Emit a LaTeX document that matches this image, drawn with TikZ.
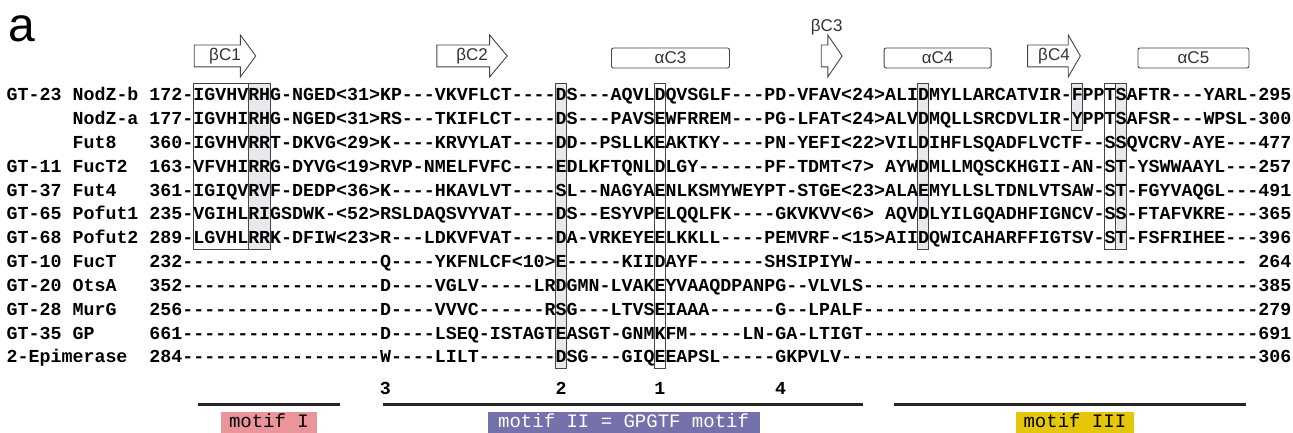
\documentclass[tikz,border=0pt]{standalone}
\usepackage{fontspec}
\setmainfont{Liberation Sans}
\setmonofont{Liberation Mono}
\usepackage{tikz}
\usetikzlibrary{positioning}

\definecolor{boxgray}{HTML}{E7E9ED}
\definecolor{edgegray}{HTML}{454545}
\definecolor{motifpink}{HTML}{E99599}
\definecolor{motifblue}{HTML}{7571AB}
\definecolor{motifyellow}{HTML}{E5C70A}

\tikzset{
  seq/.style={font=\fontsize{18.3}{22}\selectfont\ttfamily\bfseries,
    inner sep=0pt, anchor=west, text height=12pt, text depth=0pt},
  colbox/.style={draw=edgegray, line width=0.9pt, fill=white},
  colshade/.style={colbox, fill=boxgray},
  sse/.style={draw=edgegray, line width=0.9pt, fill=white},
  ssename/.style={font=\fontsize{17}{20}\selectfont, text=black!80, inner sep=0pt},
  helix/.style={sse, rounded corners=2pt, minimum height=20pt, inner sep=0pt,
    font=\fontsize{17}{20}\selectfont, text=black!80},
  motifbar/.style={line width=3pt, black!85},
  motifname/.style={font=\fontsize{19}{22}\selectfont\ttfamily, inner xsep=0pt,
    inner ysep=4pt, text height=12pt, text depth=3pt},
}

\begin{document}
\begin{tikzpicture}[x=10.98pt,y=-23.8pt]
\useasboundingbox (-6.5pt,71.2pt) rectangle (1286.5pt,-361.8pt);

\node [font=\fontsize{48}{48}\selectfont, anchor=base west, inner sep=0pt] (panel) at (0.15,-1.23) {a};

% conserved columns (under the text)
\draw[colbox] (17,0.5) rectangle (22,7.5);
\draw[colshade] (22,0.5) rectangle (24,7.5);
\draw[colshade] (50,0.5) rectangle (51,12.5);
\draw[colbox] (59,0.5) rectangle (60,12.5);
\draw[colshade] (83,0.5) rectangle (84,7.5);
\draw[colshade] (97,0.5) rectangle (98,2.5);
\draw[colbox] (100,0.5) rectangle (101,7.5);
\draw[colshade] (101,0.5) rectangle (102,7.5);

% secondary structure
\foreach \s/\a/\b/\c in {1/17.1/21.3/22.7, 2/39.2/44.0/45.6, 4/93.0/96.7/97.8} {
  \draw[sse] (\a,-1.1) -- (\b,-1.1) -- (\b,-1.52) -- (\c,-0.64) -- (\b,0.24)
    -- (\b,-0.18) -- (\a,-0.18) -- cycle;
  \node[ssename] (beta\s) at ({(\a+\c)/2},-0.64) {βC\s};
}
\draw[sse] (74.2,-1.1) -- (74.8,-1.1) -- (74.8,-1.52) -- (76.1,-0.64) -- (74.8,0.24)
  -- (74.8,-0.18) -- (74.2,-0.18) -- cycle;
\node[ssename] (beta3) at (74.7,-1.86) {βC3};
\node[helix, minimum width=118pt] (alpha3) at (60.47,-0.555) {αC3};
\node[helix, minimum width=107pt] (alpha4) at (84.8,-0.555) {αC4};
\node[helix, minimum width=111pt] (alpha5) at (108.1,-0.555) {αC5};

% alignment
\node[seq] (gt23) at (0,1) {GT-23};
\node[seq] (nodzb) at (6,1) {NodZ-b};
\node[seq] (s1) at (13,1) {172-IGVHVRHG-NGED<31>KP---VKVFLCT----DS---AQVLDQVSGLF---PD-VFAV<24>ALIDMYLLARCATVIR-FPPTSAFTR---YARL-295};
\node[seq] (nodza) at (6,2) {NodZ-a};
\node[seq] (s2) at (13,2) {177-IGVHIRHG-NGED<31>RS---TKIFLCT----DS---PAVSEWFRREM---PG-LFAT<24>ALVDMQLLSRCDVLIR-YPPTSAFSR---WPSL-300};
\node[seq] (fut8) at (6,3) {Fut8};
\node[seq] (s3) at (13,3) {360-IGVHVRRT-DKVG<29>K----KRVYLAT----DD--PSLLKEAKTKY----PN-YEFI<22>VILDIHFLSQADFLVCTF--SSQVCRV-AYE---477};
\node[seq] (gt11) at (0,4) {GT-11};
\node[seq] (fuct2) at (6,4) {FucT2};
\node[seq] (s4) at (13,4) {163-VFVHIRRG-DYVG<19>RVP-NMELFVFC----EDLKFTQNLDLGY------PF-TDMT<7> AYWDMLLMQSCKHGII-AN-ST-YSWWAAYL---257};
\node[seq] (gt37) at (0,5) {GT-37};
\node[seq] (fut4) at (6,5) {Fut4};
\node[seq] (s5) at (13,5) {361-IGIQVRVF-DEDP<36>K----HKAVLVT----SL--NAGYAENLKSMYWEYPT-STGE<23>ALAEMYLLSLTDNLVTSAW-ST-FGYVAQGL---491};
\node[seq] (gt65) at (0,6) {GT-65};
\node[seq] (pofut1) at (6,6) {Pofut1};
\node[seq] (s6) at (13,6) {235-VGIHLRIGSDWK-<52>RSLDAQSVYVAT----DS--ESYVPELQQLFK----GKVKVV<6> AQVDLYILGQADHFIGNCV-SS-FTAFVKRE---365};
\node[seq] (gt68) at (0,7) {GT-68};
\node[seq] (pofut2) at (6,7) {Pofut2};
\node[seq] (s7) at (13,7) {289-LGVHLRRK-DFIW<23>R---LDKVFVAT----DA-VRKEYEELKKLL----PEMVRF-<15>AIIDQWICAHARFFIGTSV-ST-FSFRIHEE---396};
\node[seq] (gt10) at (0,8) {GT-10};
\node[seq] (fuct) at (6,8) {FucT};
\node[seq] (s8) at (13,8) {232------------------Q----YKFNLCF<10>E-----KIIDAYF------SHSIPIYW------------------------------------ 264};
\node[seq] (gt20) at (0,9) {GT-20};
\node[seq] (otsa) at (6,9) {OtsA};
\node[seq] (s9) at (13,9) {352------------------D----VGLV-----LRDGMN-LVAKEYVAAQDPANPG--VLVLS------------------------------------385};
\node[seq] (gt28) at (0,10) {GT-28};
\node[seq] (murg) at (6,10) {MurG};
\node[seq] (s10) at (13,10) {256------------------D----VVVC------RSG---LTVSEIAAA------G--LPALF------------------------------------279};
\node[seq] (gt35) at (0,11) {GT-35};
\node[seq] (gp) at (6,11) {GP};
\node[seq] (s11) at (13,11) {661------------------D----LSEQ-ISTAGTEASGT-GNMKFM-----LN-GA-LTIGT------------------------------------691};
\node[seq] (epi) at (0,12) {2-Epimerase};
\node[seq] (s12) at (13,12) {284------------------W----LILT-------DSG---GIQEEAPSL-----GKPVLV--------------------------------------306};

% numbered positions
\foreach \c/\n in {34/3, 50/2, 59/1, 70/4}
  \node[seq, anchor=center] (pos\n) at ({\c+0.5},13.35) {\n};

% motifs
\coordinate (m1a) at (17.4,14);
\coordinate (m1b) at (30.4,14);
\coordinate (m1) at (23.9,14);
\coordinate (m2a) at (34.3,14);
\coordinate (m2b) at (78.0,14);
\coordinate (m2) at (56.2,14);
\coordinate (m3a) at (80.8,14);
\coordinate (m3b) at (112.9,14);
\coordinate (m3) at (97.3,14);
\draw[motifbar] (m1a) -- (m1b);
\draw[motifbar] (m2a) -- (m2b);
\draw[motifbar] (m3a) -- (m3b);
\node[motifname, fill=motifpink, minimum width=96pt, below=7pt of m1] (motif1) {motif I};
\node[motifname, fill=motifblue, text=white, minimum width=272pt, below=7pt of m2] (motif2) {motif II = GPGTF motif};
\node[motifname, fill=motifyellow, minimum width=118pt, below=7pt of m3] (motif3) {motif III};

\end{tikzpicture}
\end{document}
